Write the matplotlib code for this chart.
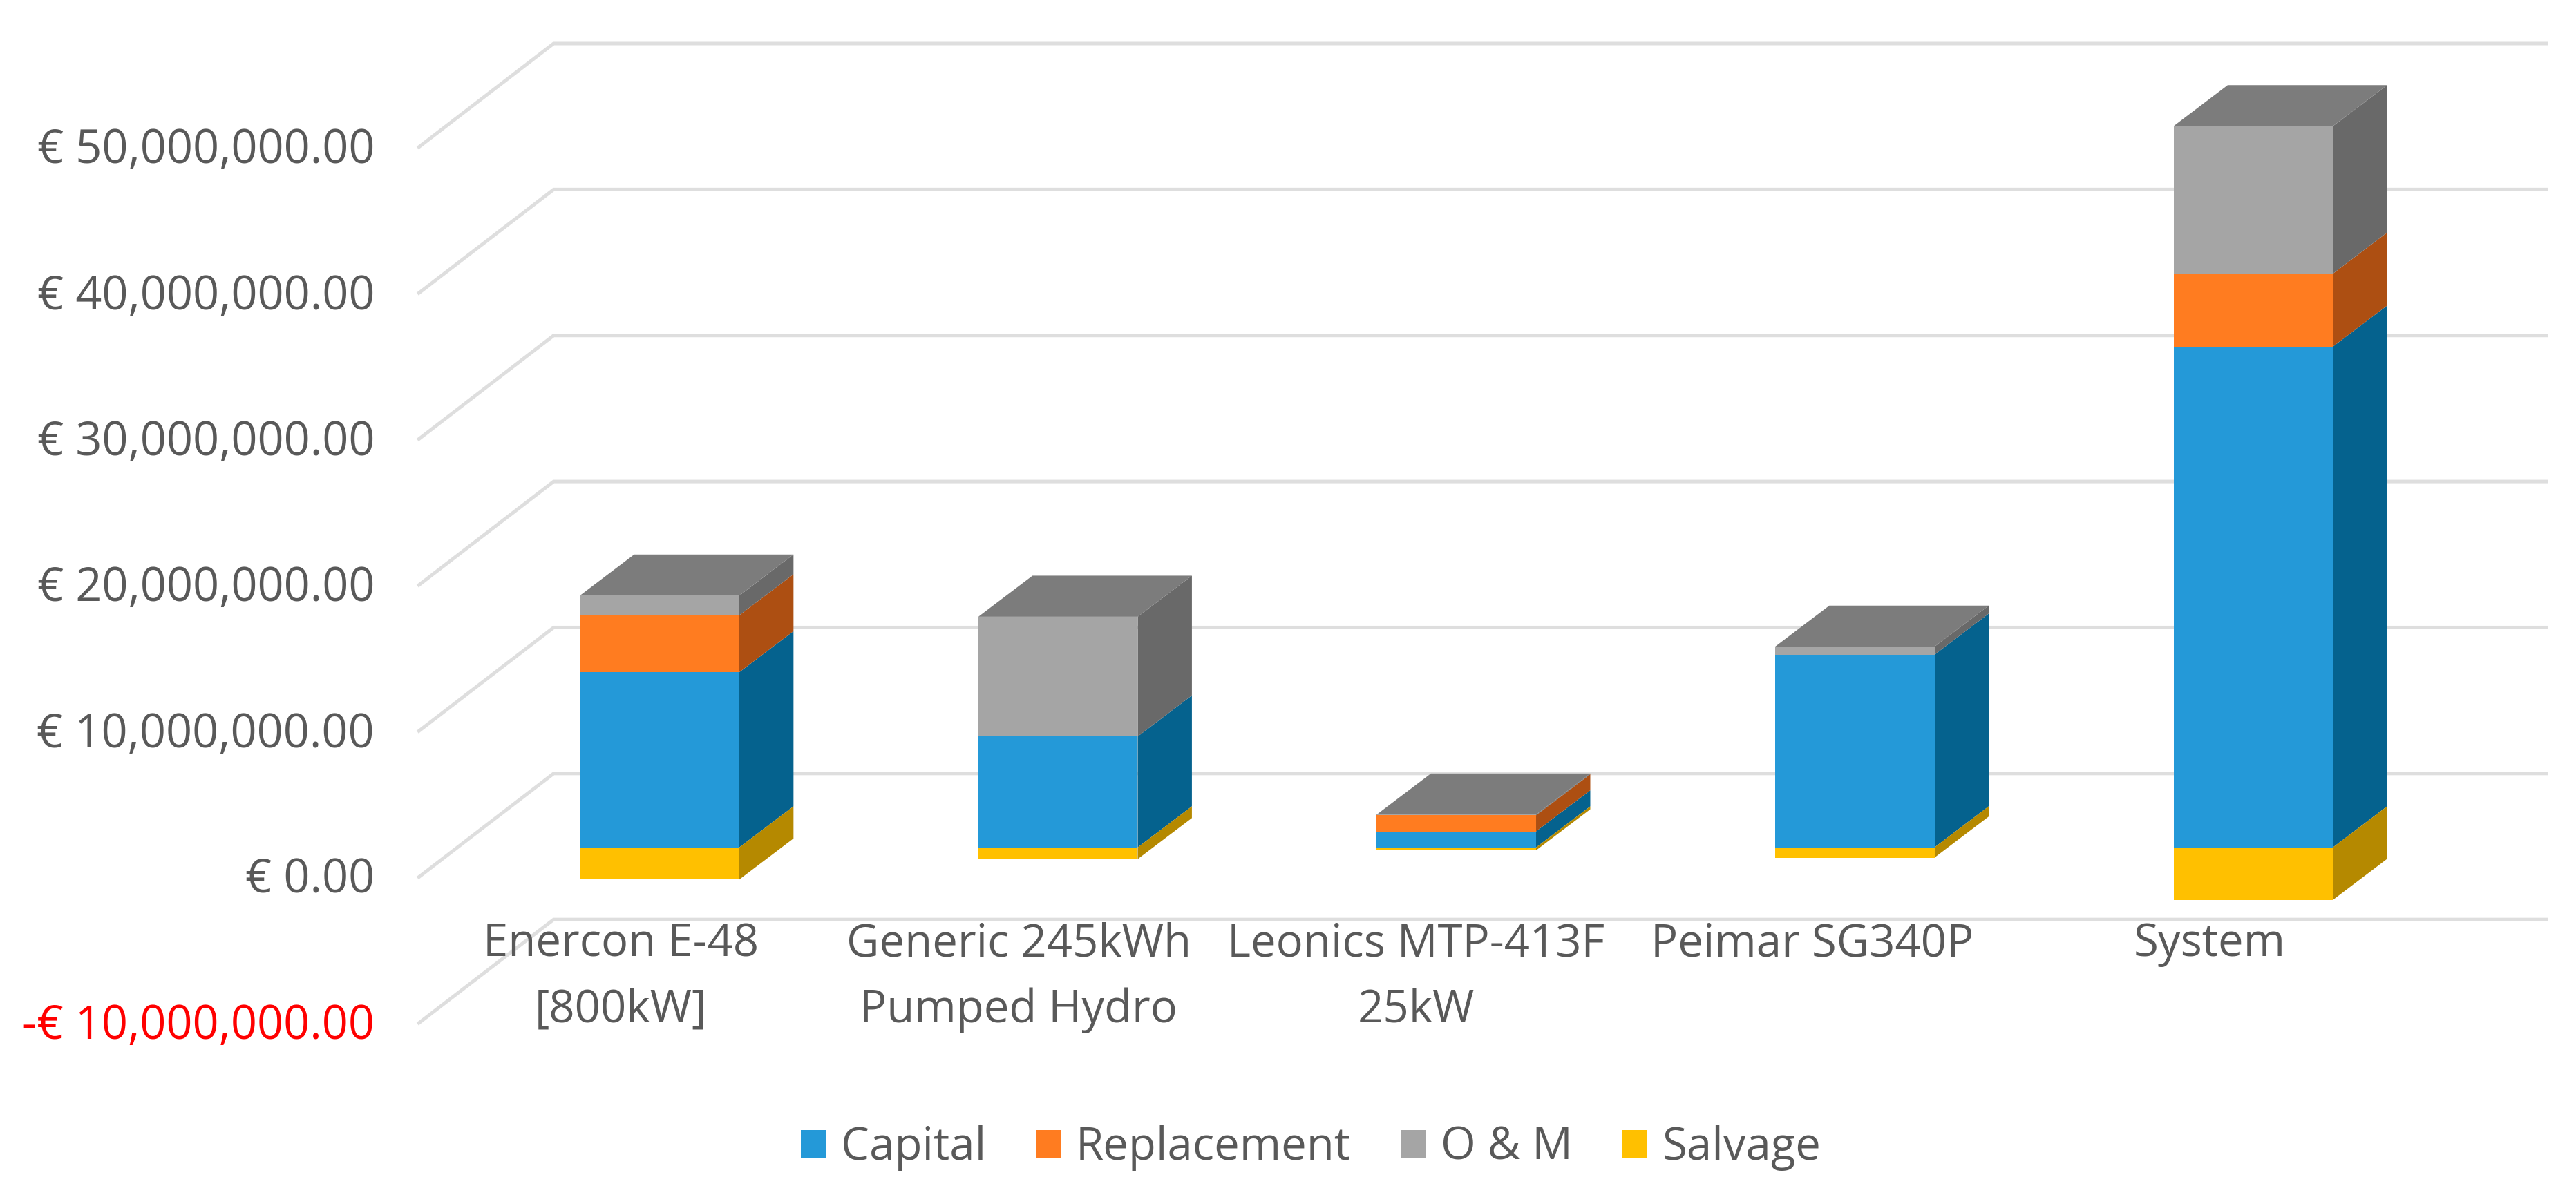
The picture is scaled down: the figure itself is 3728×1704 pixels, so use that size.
import matplotlib
matplotlib.use("Agg")
import matplotlib.pyplot as plt
import numpy as np
from matplotlib.patches import Polygon, Patch
from matplotlib.ticker import FuncFormatter

plt.rcParams['font.family'] = ['Open Sans', 'DejaVu Sans']

categories = ["Enercon E-48\n[800kW]", "Generic 245kWh\nPumped Hydro", "Leonics MTP-413F\n25kW", "Peimar SG340P", "System"]
capital = [12.0e6, 7.6e6, 1.1e6, 13.2e6, 34.3e6]
replacement = [3.9e6, 0.0, 1.1e6, 0.0, 5.0e6]
om = [1.35e6, 8.2e6, 0.05e6, 0.55e6, 10.1e6]
salvage = [-2.2e6, -0.8e6, -0.2e6, -0.7e6, -3.6e6]
y_ticks = [-10e6, 0, 10e6, 20e6, 30e6, 40e6, 50e6]

front = {"Capital": "#2499D8", "Replacement": "#FF7C20", "O & M": "#A5A5A5", "Salvage": "#FFC000"}
side = {"Capital": "#05628E", "Replacement": "#AD4F12", "O & M": "#696969", "Salvage": "#B58900"}
top_col = "#7C7C7C"
grid_col = "#DEDEDE"
text_col = "#595959"

W, H = 3728, 1704
S = W / 1568
fig = plt.figure(figsize=(W / 100, H / 100), dpi=100, facecolor="white")

# layout, in units of the 1568-wide view
PX_TOP, PX_BOT = 0.0, 560.0
PX_L, PX_R = 255.0, 1568.0
PY0, PY_M = 516.0, 88.9      # zero line of the bars, pixels per 10M
PX0, PX_STEP = 401.5, 242.5  # first bar centre, bar spacing
BAR_W = 97 / PX_STEP
DX, DY = 33 / PX_STEP, 25 / PY_M * 1e7   # bar depth
VIEW_H = H / S

ax = fig.add_axes([PX_L / 1568, 1 - PX_BOT / VIEW_H, (PX_R - PX_L) / 1568, (PX_BOT - PX_TOP) / VIEW_H])
ax.set_xlim((PX_L - PX0) / PX_STEP, (PX_R - PX0) / PX_STEP)
ax.set_ylim((PY0 - PX_BOT) / PY_M * 1e7, (PY0 - PX_TOP) / PY_M * 1e7)
ax.patch.set_alpha(0)
for s in ax.spines.values():
    s.set_visible(False)

# walls: back wall and front edge offsets relative to the bar plane
back_dy = (PY0 - 471) / PY_M * 1e7
front_dy = (PY0 - 534) / PY_M * 1e7
x_front = (255 - PX0) / PX_STEP
x_back = (337 - PX0) / PX_STEP
x_end = (1550 - PX0) / PX_STEP
for v in y_ticks:
    ax.plot([x_front, x_back, x_end], [v + front_dy, v + back_dy, v + back_dy],
            color=grid_col, lw=3.6, zorder=1, clip_on=False, solid_joinstyle="miter")

x = np.arange(len(categories))
bottom_pos = np.zeros(len(categories))
for name, vals in [("Capital", capital), ("Replacement", replacement), ("O & M", om)]:
    vals = np.array(vals)
    ax.bar(x, vals, BAR_W, bottom=bottom_pos, color=front[name], linewidth=0, zorder=4, label=name)
    for xi, b, h in zip(x, bottom_pos, vals):
        if h <= 0:
            continue
        xr = xi + BAR_W / 2
        ax.add_patch(Polygon([(xr, b), (xr + DX, b + DY), (xr + DX, b + h + DY), (xr, b + h)],
                             closed=True, fc=side[name], ec="none", zorder=3))
    bottom_pos = bottom_pos + vals

sal = np.array(salvage)
ax.bar(x, sal, BAR_W, color=front["Salvage"], linewidth=0, zorder=4, label="Salvage", clip_on=False)
for xi, h in zip(x, sal):
    xr = xi + BAR_W / 2
    ax.add_patch(Polygon([(xr, 0), (xr + DX, DY), (xr + DX, h + DY), (xr, h)],
                         closed=True, fc=side["Salvage"], ec="none", zorder=3))

for xi, t in zip(x, bottom_pos):
    xl, xr = xi - BAR_W / 2, xi + BAR_W / 2
    ax.add_patch(Polygon([(xl, t), (xl + DX, t + DY), (xr + DX, t + DY), (xr, t)],
                         closed=True, fc=top_col, ec="none", zorder=3))

# category labels, on the chart floor
label_centres = np.array([378, 620, 862, 1103, 1345])
ax.set_xticks((label_centres - PX0) / PX_STEP)
ax.set_xticklabels(categories, color=text_col, fontsize=47, linespacing=1.58)
ax.tick_params(axis="x", length=0, pad=2)
ax.set_yticks([])

# value axis, on its own axes so that labels follow the front edge
PY_L0 = 533.0
PY_AX_BOT = 660.0
ay = fig.add_axes([PX_L / 1568, 1 - PY_AX_BOT / VIEW_H, 0.001, PY_AX_BOT / VIEW_H])
ay.set_ylim((PY_L0 - PY_AX_BOT) / PY_M * 1e7, PY_L0 / PY_M * 1e7)
ay.patch.set_alpha(0)
for s in ay.spines.values():
    s.set_visible(False)
ay.set_xticks([])
ay.set_yticks(y_ticks)
ay.yaxis.set_major_formatter(FuncFormatter(lambda v, p: f"-€ {abs(v):,.2f}" if v < 0 else f"€ {v:,.2f}"))
ay.tick_params(axis="y", length=0, pad=(PX_L - 228) * S * 0.72, labelsize=48, labelcolor=text_col)
for lab, v in zip(ay.get_yticklabels(), y_ticks):
    if v < 0:
        lab.set_color("#FF0000")

handles = [Patch(fc=front[k], ec="none", label=k) for k in front]
fig.legend(handles=handles, ncol=4, loc="center", bbox_to_anchor=(798 / 1568, 1 - 699 / VIEW_H),
           frameon=False, fontsize=47, labelcolor=text_col, handlelength=0.56, handleheight=0.56,
           handletextpad=0.33, columnspacing=1.1, borderpad=0)

fig.savefig("out.png", dpi=100, facecolor="white")
